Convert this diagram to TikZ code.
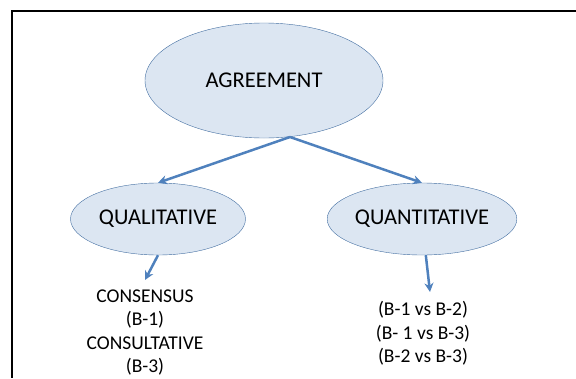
\documentclass[tikz,border=0pt]{standalone}
\usepackage{fontspec}
\setmainfont{Carlito}
\usetikzlibrary{shapes.geometric,arrows.meta}
\definecolor{EdgeBlue}{RGB}{79,129,189}
\definecolor{FillBlue}{RGB}{220,230,242}
\tikzset{
    bubble/.style={ellipse,draw=EdgeBlue!85!black,fill=FillBlue,inner sep=0pt,
        font=\fontsize{22.5}{27}\selectfont},
    link/.style={-{Stealth[length=9pt,width=9pt]},line width=2.5pt,color=EdgeBlue},
    items/.style={align=center,font=\fontsize{19.5}{23.5}\selectfont},
}

\begin{document}
\begin{tikzpicture}[x=1pt,y=-1pt]
    \useasboundingbox (0,0) rectangle (576,378);
    \draw[line width=2pt] (576,11) -| (12,378);
    \node[bubble,minimum width=238pt,minimum height=115pt] (agree) at (264,80.5) {AGREEMENT};
    \node[bubble,minimum width=175pt,minimum height=72pt] (qual) at (158,219) {QUALITATIVE};
    \node[bubble,minimum width=176pt,minimum height=72pt] (quant) at (422,219) {QUANTITATIVE};
    \coordinate (fork) at (290,137);
    \draw[link] (fork) -- (qual.north);
    \draw[link] (fork) -- (quant.north);
    \begin{scope} % left branch
        \node[items] (qualitems) at (145,332.5) {CONSENSUS\\(B-1)\\CONSULTATIVE\\(B-3)};
        \coordinate (qualtip) at (145,280);
        \draw[link] (qual.south) -- (qualtip);
    \end{scope}
    \begin{scope} % right branch
        \node[items] (quantitems) at (423,333.5) {(B-1 vs B-2)\\(B- 1 vs B-3)\\(B-2 vs B-3)};
        \coordinate (quanttip) at (430,292);
        \draw[link] (quant.-84) -- (quanttip);
    \end{scope}
\end{tikzpicture}
\end{document}
